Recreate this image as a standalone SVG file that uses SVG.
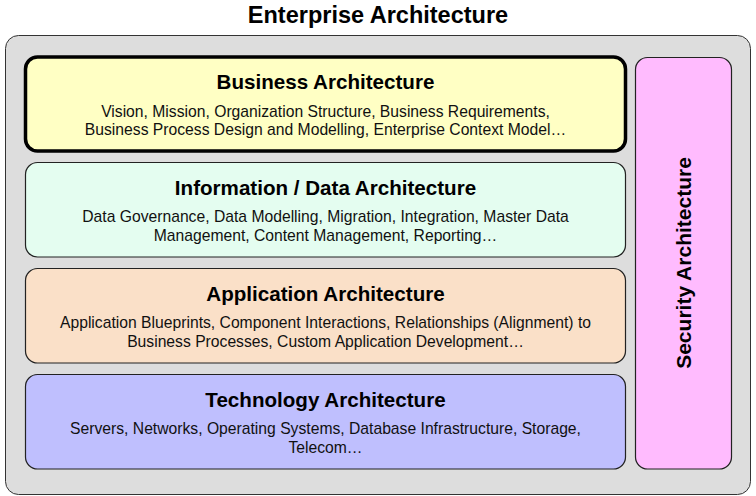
<svg xmlns="http://www.w3.org/2000/svg" width="756" height="496" viewBox="0 0 756 496">
<style>
text{font-family:"Liberation Sans",Arial,Helvetica,sans-serif;fill:#000;text-anchor:middle}
.title{font-size:23.5px;font-weight:bold}
.head{font-size:20.6px;font-weight:bold}
.body{font-size:15.7px;fill:#111}
.box{stroke:#222;stroke-width:1.2}
</style>
<rect x="5.5" y="35.5" width="745" height="459" rx="13" fill="#dddddd" stroke="#333" stroke-width="1"/>
<text class="title" x="378" y="23">Enterprise Architecture</text>
<g id="business">
<rect x="25.5" y="57" width="600" height="94" rx="12" fill="#ffffc4" stroke="#000" stroke-width="3.5"/>
<text class="head" x="325.5" y="89">Business Architecture</text>
<text class="body" x="325.5" y="116.5">Vision, Mission, Organization Structure, Business Requirements,</text>
<text class="body" x="325.5" y="135">Business Process Design and Modelling, Enterprise Context Model…</text>
</g>
<g id="information">
<rect class="box" x="25.5" y="162.5" width="600" height="94.5" rx="12" fill="#e4fdf0"/>
<text class="head" x="325.5" y="195">Information / Data Architecture</text>
<text class="body" x="325.5" y="222">Data Governance, Data Modelling, Migration, Integration, Master Data</text>
<text class="body" x="325.5" y="240.5">Management, Content Management, Reporting…</text>
</g>
<g id="application">
<rect class="box" x="25.5" y="268.5" width="600" height="94.5" rx="12" fill="#fae0c8"/>
<text class="head" x="325.5" y="301">Application Architecture</text>
<text class="body" x="325.5" y="328">Application Blueprints, Component Interactions, Relationships (Alignment) to</text>
<text class="body" x="325.5" y="346.5">Business Processes, Custom Application Development…</text>
</g>
<g id="technology">
<rect class="box" x="25.5" y="374.5" width="600" height="94.5" rx="12" fill="#bfbffe"/>
<text class="head" x="325.5" y="407">Technology Architecture</text>
<text class="body" x="325.5" y="434">Servers, Networks, Operating Systems, Database Infrastructure, Storage,</text>
<text class="body" x="325.5" y="452.5">Telecom…</text>
</g>
<g id="security">
<rect class="box" x="635.5" y="57.5" width="96" height="411.5" rx="12" fill="#ffbbfe"/>
<text class="head" x="0" y="0" transform="translate(690.5 263) rotate(-90)" style="font-size:21px">Security Architecture</text>
</g>
<g id="connectors"></g>
</svg>
